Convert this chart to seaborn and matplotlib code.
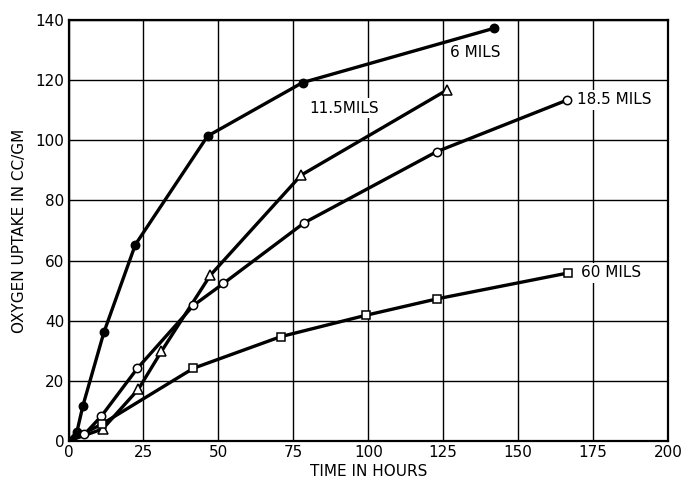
import matplotlib
matplotlib.use("Agg")
import matplotlib.pyplot as plt
import seaborn as sns
import pandas as pd

# Data (time in hours, oxygen uptake in cc/gm)
x_6 = [0, 2.8, 4.8, 11.8, 22.3, 46.4, 78.1, 141.8]
y_6 = [0, 3.0, 11.7, 36.1, 65.3, 101.4, 119.2, 137.2]

x_115 = [0, 11.4, 23.3, 31.0, 47.3, 77.6, 126.4]
y_115 = [0, 4.0, 17.2, 29.8, 55.1, 88.4, 116.8]

x_185 = [0, 5.3, 11.0, 23.0, 41.7, 51.7, 78.7, 122.8, 166.4]
y_185 = [0, 2.2, 8.3, 24.2, 45.1, 52.4, 72.6, 96.2, 113.4]

x_60 = [0, 11.1, 41.7, 70.8, 99.2, 123.1, 166.8]
y_60 = [0, 5.6, 24.2, 34.7, 41.8, 47.3, 55.9]

series_names = ["6 MILS", "11.5MILS", "18.5 MILS", "60 MILS"]
x_ticks = [0, 25, 50, 75, 100, 125, 150, 175, 200]
y_ticks = [0, 20, 40, 60, 80, 100, 120, 140]

sns.set_style("white")
plt.rcParams["font.family"] = ["DejaVu Sans"]
for k in ["text.color", "axes.labelcolor", "xtick.color", "ytick.color"]:
    plt.rcParams[k] = "black"

fig = plt.figure(figsize=(6.87, 4.82), dpi=100)
ax = fig.add_axes([68.5 / 687, 1 - 441 / 482, (668 - 68.5) / 687, (441 - 20) / 482])

frames = []
for name, xs, ys in [(series_names[0], x_6, y_6), (series_names[1], x_115, y_115),
                     (series_names[2], x_185, y_185), (series_names[3], x_60, y_60)]:
    frames.append(pd.DataFrame({"t": xs, "v": ys, "s": name}))
df = pd.concat(frames, ignore_index=True)

styles = {
    series_names[0]: dict(marker="o", mfc="black", ms=6),
    series_names[1]: dict(marker="^", mfc="white", ms=6.5),
    series_names[2]: dict(marker="o", mfc="white", ms=6),
    series_names[3]: dict(marker="s", mfc="white", ms=5.5),
}

for name in series_names:
    sub = df[df["s"] == name]
    sns.lineplot(data=sub, x="t", y="v", ax=ax, color="black", lw=2.4,
                 estimator=None, sort=False, legend=False, zorder=3)
    st = styles[name]
    pts = sub.iloc[1:]
    ax.plot(pts["t"], pts["v"], linestyle="none", marker=st["marker"],
            markersize=st["ms"], markerfacecolor=st["mfc"],
            markeredgecolor="black", markeredgewidth=1.1, zorder=4)

ax.set_xlim(0, 200)
ax.set_ylim(0, 140)
ax.set_xticks(x_ticks)
ax.set_yticks(y_ticks)
ax.set_xticklabels([str(v) for v in x_ticks], fontsize=11, fontweight="medium")
ax.set_yticklabels([str(v) for v in y_ticks], fontsize=11, fontweight="medium")
ax.tick_params(length=0, pad=3)
ax.grid(True, color="black", lw=1.0)
ax.set_axisbelow(True)
for sp in ax.spines.values():
    sp.set_color("black")
    sp.set_linewidth(1.6)

ax.set_xlabel("TIME IN HOURS", fontsize=11, labelpad=3)
ax.set_ylabel("OXYGEN UPTAKE IN CC/GM", fontsize=11, labelpad=6)

bbox = dict(facecolor="white", edgecolor="none", pad=1.5)
ax.text(127.2, 129.3, series_names[0], fontsize=11, va="center", ha="left", bbox=bbox, zorder=5)
ax.text(80.5, 110.7, series_names[1], fontsize=11, va="center", ha="left", bbox=bbox, zorder=5)
ax.text(169.5, 113.4, series_names[2], fontsize=11, va="center", ha="left", bbox=bbox, zorder=5)
ax.text(171, 55.9, series_names[3], fontsize=11, va="center", ha="left", bbox=bbox, zorder=5)

fig.savefig("out.png", dpi=100, facecolor="white")
